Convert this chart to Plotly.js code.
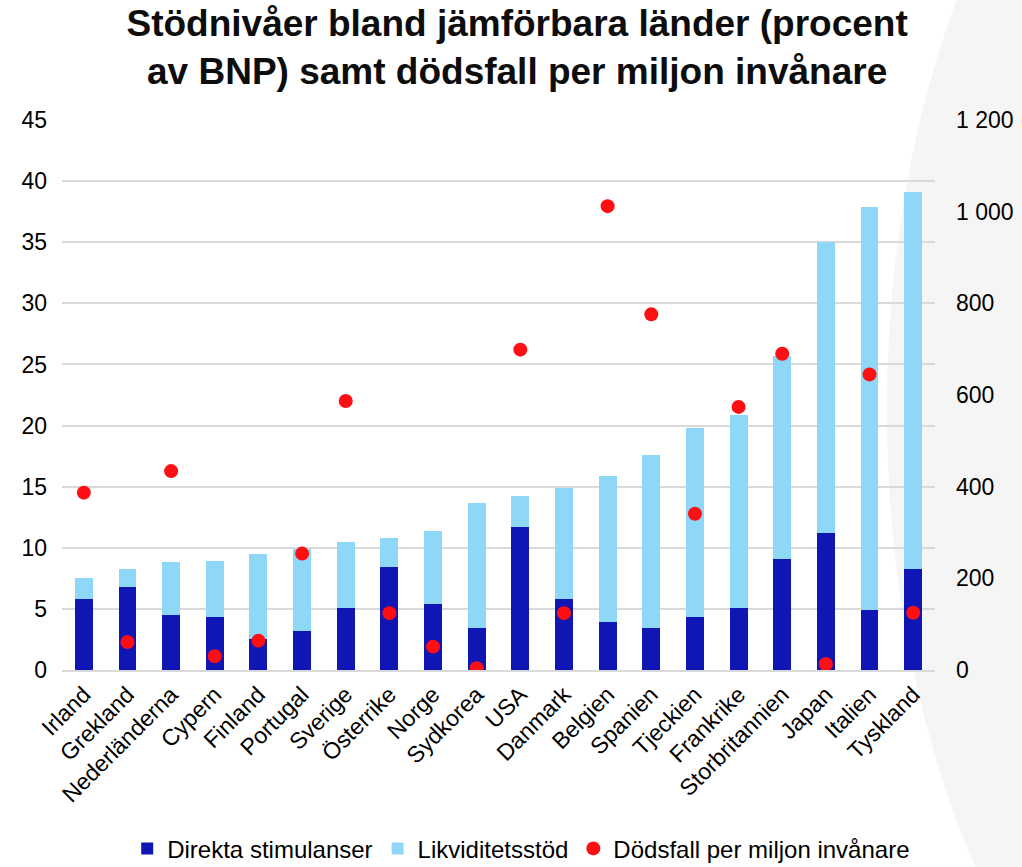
<!DOCTYPE html>
<html>
<head>
<meta charset="utf-8">
<script src="https://cdn.plot.ly/plotly-3.0.1.min.js"></script>
<style>html,body{margin:0;padding:0;background:#fff;}#chart{width:1022px;height:867px;}</style>
</head>
<body>
<div id="chart"></div>
<script>
const countries = ["Irland","Grekland","Nederländerna","Cypern","Finland","Portugal","Sverige","Österrike","Norge","Sydkorea","USA","Danmark","Belgien","Spanien","Tjeckien","Frankrike","Storbritannien","Japan","Italien","Tyskland"];
const direkta = [5.8, 6.8, 4.5, 4.3, 2.5, 3.2, 5.1, 8.4, 5.4, 3.4, 11.7, 5.8, 3.9, 3.4, 4.3, 5.1, 9.1, 11.2, 4.9, 8.3];
const totalStod = [7.5, 8.3, 8.8, 8.9, 9.5, 9.9, 10.5, 10.8, 11.4, 13.7, 14.2, 14.9, 15.9, 17.6, 19.8, 20.9, 25.7, 35.0, 37.9, 39.1];
const likviditet = totalStod.map((t, i) => +(t - direkta[i]).toFixed(1));
const dodsfall = [387, 61, 434, 30, 64, 254, 587, 124, 51, 4, 699, 124, 1012, 776, 341, 574, 690, 13, 645, 125];

const traces = [
  {type: "bar", name: "Direkta stimulanser", x: countries, y: direkta,
   marker: {color: "#1016b3"}, hoverinfo: "skip"},
  {type: "bar", name: "Likviditetsstöd", x: countries, y: likviditet,
   marker: {color: "#8fd7f7"}, hoverinfo: "skip"},
  {type: "scatter", mode: "markers", name: "Dödsfall per miljon invånare", x: countries, y: dodsfall,
   yaxis: "y2", marker: {color: "#ff0f14", size: 14}, hoverinfo: "skip"}
];

const font = "Liberation Sans, Arial, sans-serif";
const layout = {
  width: 1022, height: 867,
  margin: {l: 62, r: 87, t: 120, b: 197, autoexpand: false},
  paper_bgcolor: "#ffffff",
  plot_bgcolor: "rgba(0,0,0,0)",
  separators: ", ",
  barmode: "stack",
  bargap: 0.59,
  font: {family: font, size: 23, color: "#000000"},
  title: {
    text: "<b>Stödnivåer bland jämförbara länder (procent<br>av BNP) samt dödsfall per miljon invånare</b>",
    font: {family: font, size: 37, color: "#0d0d0d"},
    x: 0.506, xref: "container", xanchor: "center",
    y: 0.959, yref: "container", yanchor: "middle"
  },
  xaxis: {
    range: [-0.5, 19.5], automargin: false,
    tickangle: -45, tickfont: {family: font, size: 23, color: "#000"},
    showgrid: false, showline: true, linecolor: "#d9d9d9", linewidth: 2,
    ticks: "", fixedrange: true
  },
  yaxis: {
    range: [0, 45], dtick: 5, tick0: 0, automargin: false,
    showgrid: true, gridcolor: "#d9d9d9", gridwidth: 2,
    zeroline: false, showline: false, ticks: "",
    ticklabelstandoff: 14,
    tickfont: {family: font, size: 23, color: "#000"}
  },
  yaxis2: {
    overlaying: "y", side: "right", range: [0, 1200], dtick: 200, tick0: 0, automargin: false,
    tickformat: ",d", showgrid: false, zeroline: false, showline: false, ticks: "",
    ticklabelstandoff: 20,
    tickfont: {family: font, size: 23, color: "#000"}
  },
  legend: {
    orientation: "h", x: 0.526, xanchor: "center",
    yref: "container", y: 0.021, yanchor: "middle",
    itemwidth: 30,
    font: {family: font, size: 24, color: "#000"}, traceorder: "normal",
    bgcolor: "rgba(0,0,0,0)"
  },
  shapes: [
    {type: "circle", xref: "paper", yref: "paper", layer: "below",
     x0: 0.945, x1: 1.861, y0: -0.851, y1: 1.796,
     fillcolor: "#f5f5f5", line: {width: 0}}
  ],
  showlegend: true
};

Plotly.newPlot("chart", traces, layout, {displayModeBar: false, staticPlot: true});
</script>
</body>
</html>
